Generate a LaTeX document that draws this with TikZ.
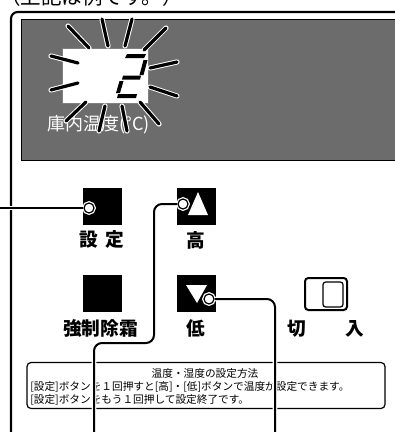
\documentclass[tikz,border=0pt]{standalone}
\usepackage{fontspec}
\setmainfont{Noto Sans CJK JP}
\usetikzlibrary{positioning}
\definecolor{lcdgray}{RGB}{108,108,108}
\tikzset{
  keybox/.style={fill=black, minimum width=29.25pt, minimum height=27.75pt, inner sep=0pt},
  pinhole/.style={circle, draw, fill=white, line width=0.9pt, minimum size=7.5pt, inner sep=0pt,
    preaction={draw=white, line width=2.8pt}},
  wire/.style={line width=1.5pt, rounded corners=6pt, preaction={draw=white, line width=3.6pt}},
  ray/.style={line width=2.4pt, line cap=round, preaction={draw=white, line width=3.9pt, line cap=round}},
  seg/.style={fill=black},
  keylabel/.style={inner sep=0pt, font=\fontsize{14}{14}\selectfont\bfseries},
  notetext/.style={inner sep=0pt, font=\fontsize{8}{8}\selectfont},
}
\begin{document}
\begin{tikzpicture}[x=0.75pt, y=-0.75pt]
			\clip (0,0) rectangle (395,432);
			\node[anchor=base west, inner sep=0pt, font=\fontsize{15.4}{15}\selectfont] (note) at (0,4.5) {（上記は例です。）};
			\draw [line width=1.6pt, rounded corners=5pt] (11,12) rectangle (430,470);
			
			% display
			\draw [fill=lcdgray, line width=0.6pt] (21,19) rectangle (420,160);
			\draw [fill=white, draw=gray] (62,48) rectangle (148,103);
			\fill [seg] (127,54) -- (146,54) -- (144,58) -- (125,58) -- cycle;
			\fill [seg] (143.5,60) -- (147.5,60) -- (143.5,75) -- (139.5,75) -- cycle;
			\fill [seg] (123,75.5) -- (141,75.5) -- (140,79.5) -- (122,79.5) -- cycle;
			\fill [seg] (119.5,81) -- (123.5,81) -- (120,93) -- (116,93) -- cycle;
			\fill [seg] (118,94) -- (137,94) -- (136,98) -- (117,98) -- cycle;
			\node[anchor=west, inner sep=0pt, text=white, font=\fontsize{13.5}{13}\selectfont] (temp) at (47,125) {庫内温度(°C)};
			\foreach \xa/\ya/\xb/\yb in {68/26/89/48, 102/19/108/46, 132/19/125/46, 166/28/144/50,
				51/56/78/63, 51/90/78/83, 150/68/177/62, 150/87/177/96,
				86/102/66/121, 105/106/99/131, 122/106/127/131, 140/102/159/124}
				\draw [ray] (\xa,\ya) -- (\xb,\yb);
			
			% keys
			\node[keybox] (setkey) at (102.5,206.5) {};
			\node[keybox] (upkey) at (196.5,206.5) {};
			\node[keybox] (defrostkey) at (102.5,293.5) {};
			\node[keybox] (downkey) at (196.5,293.5) {};
			\fill [white] (188,215) -- (208,215) -- (198,192) -- cycle;
			\fill [white] (186,285) -- (207,285) -- (197,303) -- cycle;
			\node[keylabel] (setlbl) at (101.5,239) {設\hspace{0.4em}定};
			\node[keylabel] (uplbl) at (196,240) {高};
			\node[keylabel] (defrostlbl) at (100.5,328) {強制除霜};
			\node[keylabel] (downlbl) at (196,328) {低};
			
			% switch
			\node[draw, line width=1.5pt, rounded corners=2.5pt, minimum width=31.5pt, minimum height=24pt] (switch) at (326,294) {};
			\node[draw, line width=0.9pt, rounded corners=2pt, minimum width=15pt, minimum height=18.75pt] (knob) at (333,294.5) {};
			\node[keylabel] (offlbl) at (297,329) {切};
			\node[keylabel] (onlbl) at (355,329) {入};
			
			% note box
			\node[draw, line width=0.9pt, rounded corners=3pt, minimum width=268.5pt, minimum height=34.5pt] (howto) at (206,385.5) {};
			\node[notetext] (howtitle) at (205,373) {温度・湿度の設定方法};
			\node[notetext, anchor=west] (howline1) at (30,387) {[設定]ボタンを１回押すと[高]・[低]ボタンで温度が設定できます。};
			\node[notetext, anchor=west] (howline2) at (30,400) {[設定]ボタンをもう１回押して設定終了です。};
			
			% leader lines
			\node[pinhole] (setc) at (89,208) {};
			\node[pinhole] (upc) at (183,204) {};
			\node[pinhole] (downc) at (209,299) {};
			\coordinate (setend) at (-5,208);
			\coordinate (upend) at (94,440);
			\coordinate (downend) at (275,440);
			\draw [wire] (setc.west) -- (setend);
			\draw [wire] (upc.west) -- (154,204) -- (154,343) -- (94,343) -- (upend);
			\draw [wire] (downc.east) -- (275,299) -- (downend);
\end{tikzpicture}
\end{document}
